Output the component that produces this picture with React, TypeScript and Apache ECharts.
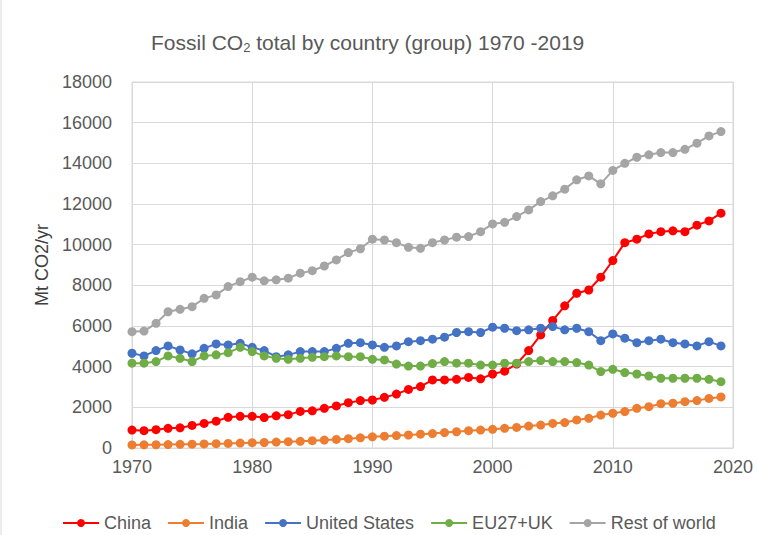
import React, { useEffect, useRef } from "react";
import * as echarts from "echarts";

const years: number[] = [];
for (let y = 1970; y <= 2019; y++) years.push(y);

const china = [880, 850, 900, 970, 990, 1110, 1210, 1320, 1510, 1560, 1560, 1500, 1580, 1640, 1800, 1830, 1950, 2070, 2230, 2330, 2360, 2490, 2650, 2880, 3020, 3350, 3350, 3380, 3470, 3400, 3640, 3780, 4130, 4790, 5560, 6270, 6990, 7610, 7770, 8400, 9220, 10100, 10270, 10530, 10640, 10680, 10640, 10960, 11170, 11550];
const india = [150, 155, 160, 170, 180, 190, 200, 215, 225, 240, 260, 270, 290, 310, 330, 360, 390, 420, 460, 500, 550, 580, 610, 640, 680, 710, 760, 800, 850, 880, 920, 970, 1010, 1080, 1130, 1210, 1250, 1380, 1460, 1620, 1710, 1790, 1950, 2030, 2180, 2200, 2280, 2330, 2440, 2510];
const unitedStates = [4660, 4530, 4790, 5020, 4820, 4630, 4900, 5120, 5070, 5150, 4950, 4790, 4490, 4580, 4740, 4740, 4740, 4900, 5150, 5180, 5070, 4950, 5020, 5230, 5280, 5350, 5450, 5680, 5720, 5680, 5940, 5890, 5770, 5810, 5890, 5970, 5810, 5890, 5720, 5280, 5610, 5400, 5180, 5280, 5350, 5180, 5120, 5020, 5230, 5020];
const eu27uk = [4170, 4170, 4250, 4530, 4410, 4250, 4530, 4580, 4690, 4950, 4740, 4530, 4410, 4360, 4410, 4460, 4490, 4530, 4490, 4490, 4360, 4330, 4130, 4030, 4030, 4150, 4250, 4170, 4170, 4080, 4080, 4170, 4170, 4250, 4300, 4250, 4250, 4200, 4080, 3760, 3870, 3710, 3640, 3540, 3430, 3430, 3430, 3430, 3380, 3260];
const restOfWorld = [5720, 5750, 6130, 6700, 6820, 6950, 7360, 7530, 7940, 8180, 8400, 8220, 8270, 8350, 8600, 8720, 8950, 9250, 9610, 9800, 10270, 10230, 10100, 9870, 9820, 10100, 10230, 10370, 10400, 10640, 11020, 11100, 11380, 11710, 12120, 12400, 12730, 13190, 13380, 12990, 13650, 14000, 14300, 14420, 14530, 14530, 14690, 14990, 15350, 15560];

const seriesNames = ["China", "India", "United States", "EU27+UK", "Rest of world"];
const seriesColors = ["#FF0000", "#ED7D31", "#4472C4", "#70AD47", "#A5A5A5"];
const seriesValues = [china, india, unitedStates, eu27uk, restOfWorld];

const FONT = "Liberation Sans";
const TXT = "#595959";

export default function App() {
  const ref = useRef<HTMLDivElement>(null);
  useEffect(() => {
    if (!ref.current) return;
    const chart = echarts.init(ref.current, undefined, { renderer: "svg" });
    chart.setOption({
      animation: false,
      backgroundColor: "#ffffff",
      textStyle: { fontFamily: FONT },
      title: {
        text: "Fossil CO{sub|2} total by country (group) 1970 -2019",
        left: 146,
        top: 25,
        textStyle: {
          fontFamily: FONT,
          fontSize: 21,
          fontWeight: "normal",
          color: TXT,
          rich: {
            sub: { fontFamily: FONT, fontSize: 13, color: TXT, padding: [11, 0, 0, 0] },
          },
        },
      },
      graphic: [
        { type: "line", shape: { x1: 1, y1: 0, x2: 1, y2: 535 }, style: { stroke: "#d9d9d9", lineWidth: 1 } },
      ],
      legend: {
        left: 57,
        top: 509,
        itemWidth: 36,
        itemHeight: 10,
        itemGap: 16,
        textStyle: { fontFamily: FONT, fontSize: 18, color: TXT },
        data: seriesNames,
      },
      grid: { left: 132, right: 25, top: 82, bottom: 87, show: true, borderColor: "#d9d9d9", borderWidth: 1 },
      xAxis: {
        type: "value",
        min: 1970,
        max: 2020,
        interval: 10,
        axisLine: { show: true, lineStyle: { color: "#d9d9d9" } },
        axisTick: { show: false },
        splitLine: { show: true, lineStyle: { color: "#d9d9d9", width: 1 } },
        axisLabel: { fontFamily: FONT, fontSize: 18, color: TXT, margin: 10, formatter: (v: number) => String(v) },
      },
      yAxis: {
        type: "value",
        min: 0,
        max: 18000,
        interval: 2000,
        name: "Mt CO2/yr",
        nameLocation: "middle",
        nameGap: 80,
        nameTextStyle: { fontFamily: FONT, fontSize: 18, color: "#404040" },
        axisLine: { show: false },
        axisTick: { show: false },
        splitLine: { show: true, lineStyle: { color: "#d9d9d9", width: 1 } },
        axisLabel: { fontFamily: FONT, fontSize: 18, color: TXT, margin: 20, formatter: (v: number) => String(v) },
      },
      series: seriesNames.map((name, i) => ({
        name,
        type: "line",
        data: years.map((y, j) => [y, seriesValues[i][j]]),
        symbol: "circle",
        symbolSize: 9,
        showSymbol: true,
        color: seriesColors[i],
        lineStyle: { color: seriesColors[i], width: 2 },
        itemStyle: { color: seriesColors[i] },
        z: 2 + i,
      })),
    });
    return () => chart.dispose();
  }, []);
  return <div ref={ref} style={{ position: "fixed", left: 0, top: 0, width: 758, height: 535 }} />;
}
